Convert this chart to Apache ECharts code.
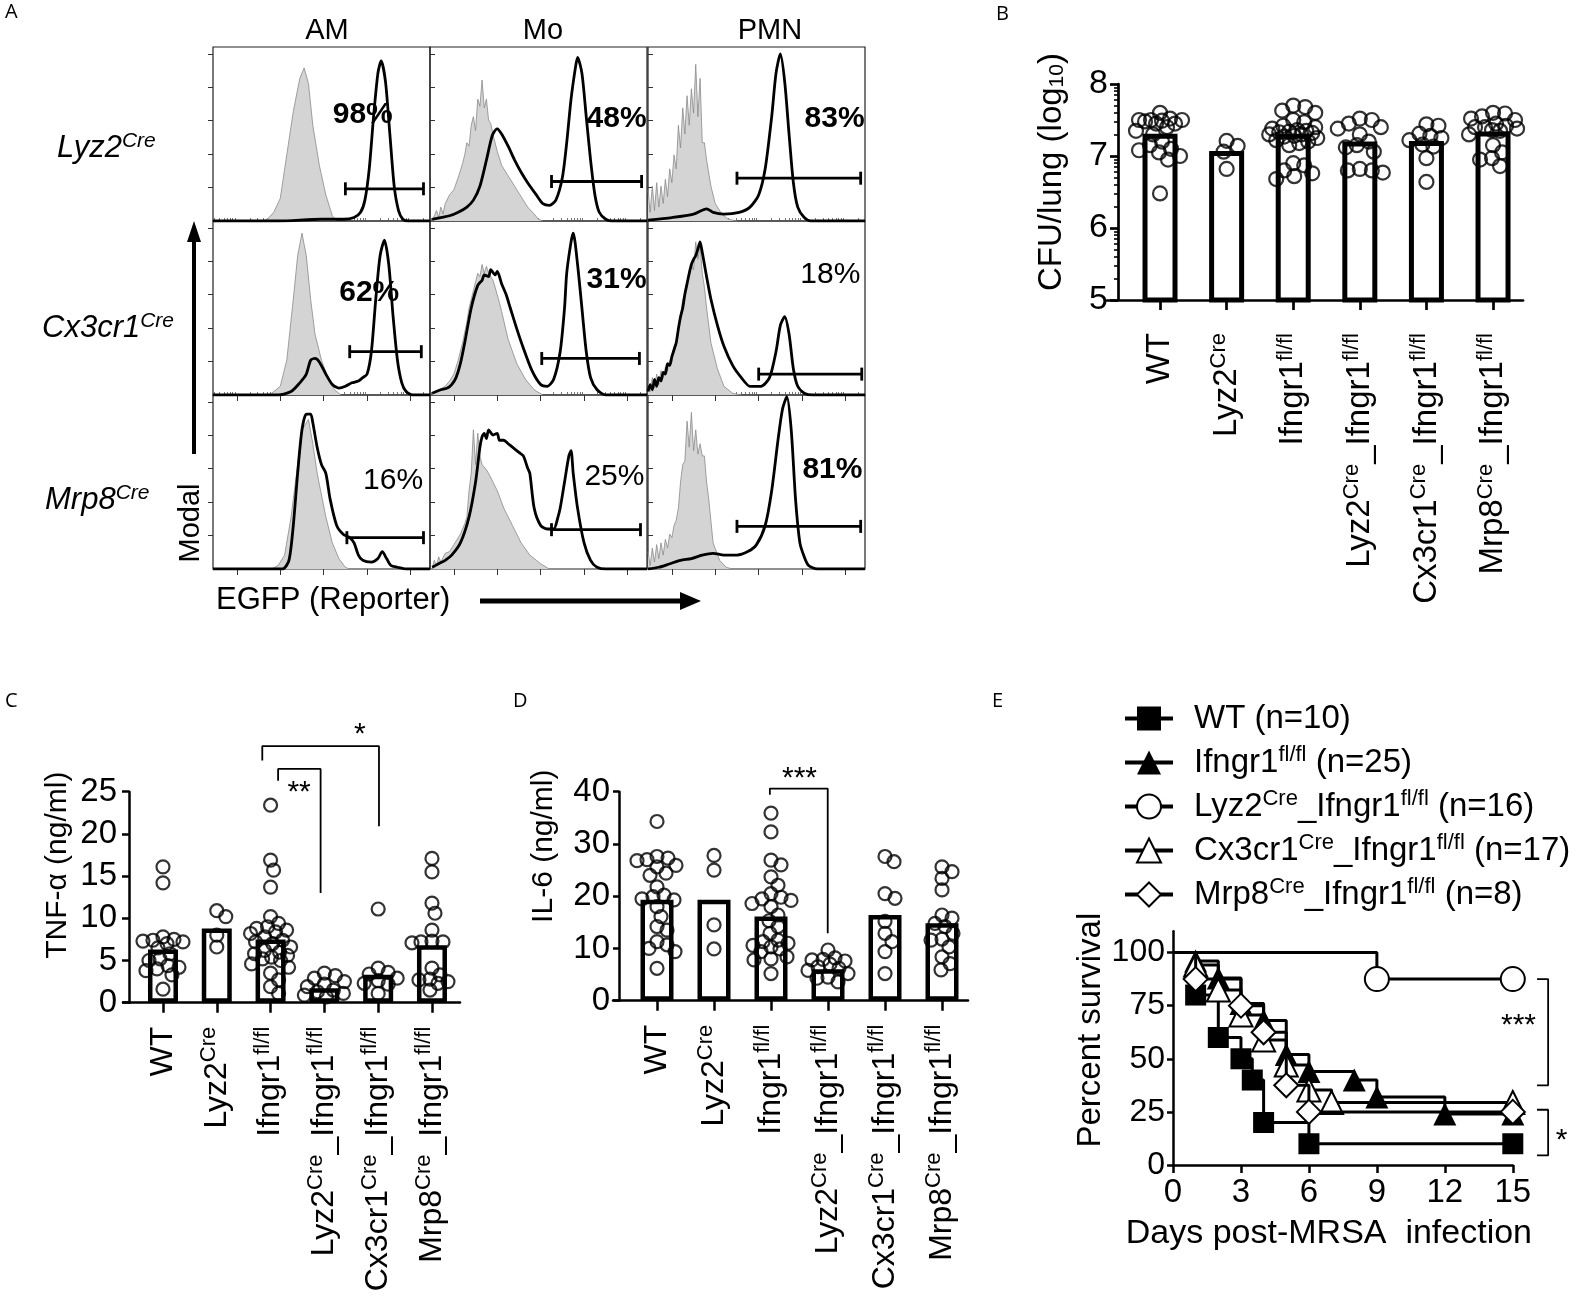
<!DOCTYPE html>
<html><head><meta charset="utf-8">
<script src="https://cdn.jsdelivr.net/npm/echarts@6/dist/echarts.min.js"></script>
<style>html,body{margin:0;padding:0;background:#fff}#c{width:1576px;height:1304px}</style>
</head><body><div id="c"></div>
<script>
// ---------------- DATA ----------------
const CATS = ['WT','Lyz2^Cre','Ifngr1^fl/fl','Lyz2^Cre_Ifngr1^fl/fl','Cx3cr1^Cre_Ifngr1^fl/fl','Mrp8^Cre_Ifngr1^fl/fl'];

// Panel A histograms [channel(0-100), % of max]
const AM_LYZ2_CTRL = [[23,0],[25,1],[28,5],[31,13],[34,38],[37,63],[40,82],[42,88],[44,79],[46,55],[49,32],[52,15],[55,3],[57,0]];
const AM_LYZ2_EGFP = [[0,0],[30,0],[50,1],[60,1],[65,2],[68,5],[70,12],[72,30],[74,60],[76,85],[77.5,92],[79.5,80],[81.5,50],[83.5,20],[85.5,6],[87.5,1],[90,0],[100,0]];
const MO_LYZ2_CTRL = [[1,0],[2,3],[3,6],[4,2],[5,8],[6,4],[7,10],[9,15],[11,18],[13,25],[15,33],[16,38],[17,45],[18,43],[19,55],[20,60],[21,52],[22,70],[23,66],[24,81],[25,65],[26,70],[27,58],[28,56],[29,50],[31,40],[33,32],[36,26],[39,20],[42,14],[45,8],[48,4],[50,1],[52,0]];
const MO_LYZ2_EGFP = [[1,1],[5,2],[9,3],[13,5],[17,8],[20,12],[23,20],[26,35],[28,46],[29,50],[31,53],[33,50],[36,43],[39,35],[42,28],[45,22],[49,15],[52,10],[55,9],[58,12],[61,25],[63,45],[65,70],[67,88],[68,94],[70,85],[72,60],[74,35],[76,15],[78,5],[81,1],[84,0],[100,0]];
const PMN_LYZ2_CTRL = [[0,18],[1,5],[2,20],[3,6],[4,22],[5,8],[6,20],[7,10],[8,24],[9,14],[10,30],[11,22],[12,38],[13,30],[14,55],[15,42],[16,65],[17,50],[18,72],[19,55],[20,76],[21,62],[22,90],[23,60],[24,82],[25,45],[26,45],[27,35],[29,20],[31,10],[34,4],[37,1],[41,0]];
const PMN_LYZ2_EGFP = [[0,0.5],[11,2],[21,4],[27,7],[30,5],[35,4],[42,5],[47,8],[51,15],[54,30],[57,60],[59,85],[61,96],[63,80],[65,50],[67,22],[69,8],[72,2],[75,0],[100,0]];
const AM_CX3_CTRL = [[25,0],[27,1],[31,5],[34,20],[37,55],[39,80],[41,93],[43,80],[45,55],[47,35],[50,20],[53,10],[56,3],[59,0]];
const AM_CX3_EGFP = [[0,0],[30,0],[36,2],[40,7],[43,12],[45,20],[47,21],[49,19],[52,12],[55,6],[58,4],[61,5],[64,7],[67,8],[69,10],[71,12],[73,25],[75,55],[77,80],[79,89],[81,75],[83,45],[85,20],[87,7],[89,2],[92,0],[100,0]];
const MO_CX3_CTRL = [[1,0],[2,2],[4,3],[7,5],[9,8],[11,12],[13,20],[15,30],[17,42],[18,50],[20,60],[21,65],[22,70],[23,68],[24,75],[25,70],[26,74],[27,70],[29,66],[30,62],[32,53],[33,48],[36,32],[40,18],[44,9],[48,3],[52,0]];
const MO_CX3_EGFP = [[1,1],[5,3],[8,4],[10,6],[12,10],[14,18],[16,30],[19,50],[22,63],[24,66],[25,69],[27,68],[28,72],[30,69],[31,71],[33,64],[35,58],[37,50],[40,38],[43,27],[47,14],[51,6],[54,5],[57,9],[60,25],[62,50],[63,70],[65,88],[66,93],[68,75],[70,50],[72,25],[74,10],[77,3],[81,0],[100,0]];
const PMN_CX3_CTRL = [[0,8],[1,2],[2,10],[3,4],[4,12],[5,6],[6,14],[7,10],[8,16],[9,14],[10,20],[11,22],[12,28],[13,30],[14,40],[15,45],[16,55],[17,58],[18,65],[19,68],[20,75],[21,72],[22,88],[23,78],[24,86],[25,70],[26,62],[27,50],[29,30],[32,15],[35,5],[39,1],[43,0]];
const PMN_CX3_EGFP = [[0,2],[1,6],[2,3],[3,9],[4,5],[5,10],[6,8],[7,13],[8,12],[9,18],[10,17],[11,22],[12,26],[13,30],[14,38],[15,45],[16,50],[17,58],[18,64],[19,70],[20,75],[21,78],[22,80],[23,84],[24,88],[25,82],[26,75],[27,68],[29,55],[32,40],[35,28],[39,17],[43,10],[47,5],[52,5],[56,10],[59,25],[61,40],[63,45],[65,35],[67,15],[69,5],[72,1],[76,0],[100,0]];
const AM_MRP8_CTRL = [[27,0],[30,2],[33,8],[36,30],[39,60],[41,80],[44,86],[46,72],[48,55],[52,30],[55,15],[58,6],[61,1],[63,0]];
const AM_MRP8_EGFP = [[0,0],[32,0],[35,5],[37,25],[39,55],[41,80],[43,89],[45,89],[46,84],[48,70],[50,60],[52,55],[54,40],[57,25],[60,20],[63,18],[65,15],[67,8],[69,5],[73,4],[76,6],[78,10],[80,6],[82,2],[85,1],[89,0],[100,0]];
const MO_MRP8_CTRL = [[1,0],[2,5],[3,2],[4,7],[5,4],[7,9],[9,10],[11,14],[14,20],[16,26],[17,30],[18,45],[19,55],[20,80],[21,60],[22,78],[23,65],[24,60],[26,57],[27,55],[29,50],[31,45],[34,35],[38,25],[42,15],[46,8],[51,3],[55,0]];
const MO_MRP8_EGFP = [[1,1],[4,3],[7,5],[10,8],[14,15],[18,30],[21,50],[23,70],[24,76],[25,78],[26,75],[27,80],[29,77],[31,78],[32,74],[34,74],[36,72],[38,70],[41,67],[43,65],[45,58],[46,55],[48,35],[51,25],[54,23],[57,23],[59,30],[60,35],[62,50],[64,65],[65,68],[66,55],[68,35],[71,15],[74,5],[77,1],[81,0],[100,0]];
const PMN_MRP8_CTRL = [[0,10],[1,2],[2,12],[3,4],[4,14],[5,6],[6,15],[7,8],[8,17],[9,12],[10,20],[11,18],[12,25],[13,28],[14,35],[15,50],[16,60],[17,62],[18,85],[19,70],[20,90],[21,68],[22,80],[23,66],[24,72],[25,65],[26,65],[27,50],[28,40],[30,15],[33,5],[36,1],[39,0]];
const PMN_MRP8_EGFP = [[0,0],[5,1],[10,3],[15,5],[20,6],[25,8],[30,9],[35,8],[41,8],[46,10],[50,14],[54,25],[57,45],[60,75],[62,92],[64,99],[66,80],[68,40],[70,15],[72,7],[74,2],[78,0],[100,0]];

const A_COLS = ['AM','Mo','PMN'];
const A_ROWS = [['Lyz2','Cre'],['Cx3cr1','Cre'],['Mrp8','Cre']];
const A_GATE = [[61,97,18.5],[56,97.5,22.7],[41,98,24.6],[63,96,24.9],[51.5,96.5,21],[51,98.5,12],[61.7,97,18],[56,97,22.6],[41,98,24.5]];
const A_PCT = ['98%','48%','83%','62%','31%','18%','16%','25%','81%'];
const A_BOLD = [true,true,true,true,true,false,false,false,true];

// Panel B: CFU/lung (log10)
const B_MEANS = [7.31, 7.07, 7.31, 7.20, 7.21, 7.34];
const B_WT = [7.6,7.52,7.5,7.5,7.5,7.49,7.48,7.45,7.45,7.4,7.35,7.3,7.2,7.15,7.1,7.08,7.05,7.0,6.95,6.48];
const B_LYZ2 = [7.21,7.14,7.06,6.82];
const B_IFN = [7.7,7.68,7.63,7.6,7.5,7.47,7.42,7.4,7.38,7.36,7.35,7.34,7.33,7.32,7.3,7.3,7.28,7.27,7.25,7.22,7.2,7.18,7.15,6.9,6.87,6.8,6.76,6.72,6.68];
const B_LYZ2_IFN = [7.52,7.5,7.45,7.4,7.38,7.3,7.2,7.15,7.12,7.06,6.82,6.8,6.8,6.77];
const B_CX3_IFN = [7.44,7.42,7.31,7.28,7.25,7.22,7.16,7.13,6.97,6.64];
const B_MRP8_IFN = [7.6,7.59,7.55,7.52,7.5,7.45,7.42,7.4,7.4,7.38,7.36,7.35,7.3,7.15,7.05,6.97,6.95,6.86];

// Panel C: TNF-a (ng/ml)
const C_MEANS = [6.3, 8.8, 7.5, 1.7, 3.3, 6.8];
const C_WT = [16.1,14.2,7.8,7.5,7.4,7.3,7.2,7.0,6.5,5.8,5.2,5.0,4.4,4.2,4.0,3.8,3.3,1.6];
const C_LYZ2 = [10.9,10.2,8.0,6.6];
const C_IFN = [23.4,16.9,15.7,13.7,10.2,9.4,9.0,8.8,8.6,8.4,8.2,7.8,7.4,7.2,7.0,6.6,6.2,6.0,5.8,5.6,5.4,5.2,5.0,4.6,4.2,3.5,2.7,1.9,1.1];
const C_LYZ2_IFN = [3.5,3.2,2.9,2.5,2.2,1.9,1.5,1.3,1.1,0.9,0.7];
const C_CX3_IFN = [11.1,4.1,3.6,3.4,2.9,2.6,2.3,2.2,1.1];
const C_MRP8_IFN = [17.1,15.5,11.8,10.6,8.6,7.3,7.2,7.2,7.1,4.1,3.3,2.8,2.7,2.5,2.3,1.5];
const C_BRACKETS = [[1.846,4.015,30.4,28.7,20.9],[2.14,2.93,27.7,26.3,13.0]];
const C_STARS = [['*',3.66,31.8],['**',2.53,24.9]];

// Panel D: IL-6 (ng/ml)
const D_MEANS = [19.3, 19.3, 16.1, 6.0, 16.4, 14.8];
const D_WT = [34.3,27.6,27.3,27.0,26.8,25.9,25.6,24.4,24.0,21.8,20.2,19.9,19.5,19.3,18.0,16.1,14.2,13.5,11.3,10.7,10.0,9.4,6.2];
const D_LYZ2 = [27.8,25.0,14.5,9.9];
const D_IFN = [35.9,32.3,26.9,26.0,23.7,22.1,20.5,19.8,19.5,19.2,18.6,18.0,16.4,15.3,14.2,12.9,11.6,11.3,11.0,10.6,10.3,9.9,9.4,8.4,8.0,7.8,5.2];
const D_LYZ2_IFN = [9.7,8.2,7.9,7.8,7.6,7.0,6.5,6.2,5.8,5.2,4.5,4.3,3.6];
const D_CX3_IFN = [27.6,26.6,20.5,19.6,15.2,12.9,11.3,9.4,5.2];
const D_MRP8_IFN = [25.6,24.7,23.4,21.2,16.4,15.8,14.8,14.2,12.9,11.8,11.6,10.3,8.4,7.1,5.9];
const D_BRACKETS = [[1.98,2.995,40.6,39.4,12.9]];
const D_STARS = [['***',2.5,42.5]];

// Panel E: survival
const E_NAMES = ['WT (n=10)','Ifngr1^fl/fl (n=25)','Lyz2^Cre_Ifngr1^fl/fl (n=16)','Cx3cr1^Cre_Ifngr1^fl/fl (n=17)','Mrp8^Cre_Ifngr1^fl/fl (n=8)'];
const E_DAYS_WT = [0,1,2,3,3.5,4,6,15];
const E_SURV_WT = [100,80,60,50,40,20,10,10];
const E_DAYS_IFN = [0,1,2,3,4,5,6,8,9,12,15];
const E_SURV_IFN = [100,96,88,76,68,52,44,40,32,24,24];
const E_DAYS_LYZ2 = [0,9,15];
const E_SURV_LYZ2 = [100,87.5,87.5];
const E_DAYS_CX3 = [0,1,2,3,4,5,6,7,15];
const E_SURV_CX3 = [100,94.1,82.4,70.6,58.8,47.1,35.3,29.4,29.4];
const E_DAYS_MRP8 = [0,1,3,4,5,6,15];
const E_SURV_MRP8 = [100,87.5,75,62.5,37.5,25,25];
const E_BRACKETS = [[16.07,16.56,87.5,37.5],[16.07,16.56,26,4.5]];
const E_STARS = [['***',15.25,65.5],['*',17.15,11.5]];

// ---------------- BUILD ----------------
const FONT = '"Liberation Sans", Arial, Helvetica, sans-serif';
const grids=[], xAxes=[], yAxes=[], series=[];
const addGrid=g=>{grids.push(g);return grids.length-1;};
const addX=a=>{xAxes.push(a);return xAxes.length-1;};
const addY=a=>{yAxes.push(a);return yAxes.length-1;};

function richify(str){
  return str.split(/(\^[^_\s]+)/).filter(p=>p.length).map(p=>p[0]==='^'?'{s|'+p.slice(1)+'}':'{n|'+p+'}').join('');
}
function supRich(fs, sfs, extra){
  extra = extra||{};
  return {
    n:Object.assign({fontSize:fs,lineHeight:fs,verticalAlign:'bottom',fontFamily:FONT,color:'#000'},extra),
    s:Object.assign({fontSize:sfs,lineHeight:sfs,verticalAlign:'bottom',padding:[0,0,Math.round(fs*0.4),0],fontFamily:FONT,color:'#000'},extra)
  };
}
function textSeries(xi,yi,pos,txt,fs,weight){
  return {type:'scatter',xAxisIndex:xi,yAxisIndex:yi,data:[pos],symbolSize:0,clip:false,silent:true,itemStyle:{color:'#000'},
    label:{show:true,position:'inside',formatter:txt,fontSize:fs,fontWeight:weight||'normal',color:'#000',opacity:1,fontFamily:FONT},z:6};
}

// Panel A
const A_CTRL=[AM_LYZ2_CTRL,MO_LYZ2_CTRL,PMN_LYZ2_CTRL,AM_CX3_CTRL,MO_CX3_CTRL,PMN_CX3_CTRL,AM_MRP8_CTRL,MO_MRP8_CTRL,PMN_MRP8_CTRL];
const A_EGFP=[AM_LYZ2_EGFP,MO_LYZ2_EGFP,PMN_LYZ2_EGFP,AM_CX3_EGFP,MO_CX3_EGFP,PMN_CX3_EGFP,AM_MRP8_EGFP,MO_MRP8_EGFP,PMN_MRP8_EGFP];
const A_PCT_POS=[[69,61],[86,59],[86,59],[72,59],[86,66],[84,69],[83,51],[85,53],[85,57]];
const A_LEFT=[213,430,648], A_TOP=[47,221,395], A_W=217, A_H=174;
const A_XMAJOR=[11,31,51,71,91], A_XMINOR=[];
for(const m of [-9,11,31,51,71,91]) for(let k=2;k<=9;k++){const v=m+20*Math.log10(k); if(v>0&&v<100) A_XMINOR.push(+v.toFixed(2));}
const A_YMAJOR=[19.5,38.5,58,77,96];

for(let i=0;i<9;i++){
  const r=Math.floor(i/3), c=i%3;
  const gi=addGrid({left:A_LEFT[c],top:A_TOP[r],width:A_W,height:A_H,show:true,borderColor:'#222',borderWidth:1.2,backgroundColor:'rgba(0,0,0,0)'});
  const showX=r>0;
  const xi=addX({type:'value',gridIndex:gi,min:0,max:100,axisLine:{show:false},axisLabel:{show:false},splitLine:{show:false},
    axisTick:{show:showX,customValues:A_XMAJOR,length:6,lineStyle:{color:'#333',width:1}}});
  addX({type:'value',gridIndex:gi,min:0,max:100,axisLine:{show:false},axisLabel:{show:false},splitLine:{show:false},
    axisTick:{show:showX,customValues:A_XMINOR,length:3,lineStyle:{color:'#555',width:0.8}}});
  const yi=addY({type:'value',gridIndex:gi,min:0,max:100,axisLine:{show:false,onZero:false},axisLabel:{show:false},splitLine:{show:false},
    axisTick:{show:true,inside:c>0,customValues:A_YMAJOR,length:5,lineStyle:{color:'#333',width:1}}});
  series.push({type:'line',xAxisIndex:xi,yAxisIndex:yi,data:A_CTRL[i],symbol:'none',lineStyle:{color:'#8a8a8a',width:0.8},areaStyle:{color:'#d4d4d4',opacity:1},z:2});
  series.push({type:'line',xAxisIndex:xi,yAxisIndex:yi,data:A_EGFP[i],symbol:'none',smooth:0.25,lineStyle:{color:'#000',width:2.8},z:3});
  const g=A_GATE[i];
  series.push({type:'line',xAxisIndex:xi,yAxisIndex:yi,data:[[g[0],g[2]],[g[1],g[2]]],symbol:'rect',symbolSize:[2.8,13],showSymbol:true,
    itemStyle:{color:'#000'},lineStyle:{color:'#000',width:2.8},z:4});
  series.push(textSeries(xi,yi,A_PCT_POS[i],A_PCT[i],30,A_BOLD[i]?'bold':'normal'));
}

// swarm layout (pixel offsets) computed from values
function swarm(vals,pxPerVal,diam,maxOff){
  const order=vals.map((v,i)=>i).sort((a,b)=>vals[b]-vals[a]);
  const placed=[], off=new Array(vals.length);
  for(const i of order){
    const y=vals[i]*pxPerVal; let best=null;
    for(let k=0;k<=maxOff&&best===null;k+=1){
      for(const s of (k===0?[0]:[k,-k])){
        if(placed.every(p=>Math.hypot(p.x-s,p.y-y)>=diam)){best=s;break;}
      }
    }
    if(best===null){
      let bd=-1;
      for(let s=-maxOff;s<=maxOff;s++){
        const d=Math.min(...placed.map(p=>Math.hypot(p.x-s,p.y-y)));
        if(d>bd){bd=d;best=s;}
      }
    }
    placed.push({x:best,y}); off[i]=best;
  }
  return off;
}

function barPanel(P){
  const gi=addGrid({left:P.left,top:P.top,width:P.width,height:P.height});
  const xi=addX({type:'value',gridIndex:gi,min:P.xmin,max:P.xmax,
    axisLine:{show:true,onZero:false,lineStyle:{color:'#000',width:P.lw}},splitLine:{show:false},
    axisTick:{show:true,customValues:[0,1,2,3,4,5],length:10,lineStyle:{color:'#000',width:P.lw}},
    axisLabel:{show:true,customValues:[0,1,2,3,4,5],rotate:90,margin:P.labMargin,formatter:v=>richify(CATS[Math.round(v)]),rich:supRich(P.catFs,P.supFs)}});
  const yi=addY({type:'value',gridIndex:gi,position:'left',min:P.ymin,max:P.ymax,interval:P.yint,offset:P.yoff,
    name:P.yname,nameLocation:'middle',nameGap:P.nameGap,nameRotate:90,
    nameTextStyle:Object.assign({fontSize:P.nameFs,fontFamily:FONT,color:'#000',padding:[0,0,0,P.namePad]},P.nameRich?{rich:P.nameRich}:{}),
    axisLine:{show:true,onZero:false,lineStyle:{color:'#000',width:P.lw}},
    axisTick:{show:true,length:P.ytl,lineStyle:{color:'#000',width:P.lw}},
    axisLabel:{fontSize:P.yFs,fontFamily:FONT,color:'#000',margin:P.yMargin},splitLine:{show:false}});
  series.push({type:'bar',xAxisIndex:xi,yAxisIndex:yi,data:P.means.map((m,k)=>[k,m]),barWidth:P.barW,
    itemStyle:{color:'#fff',borderColor:'#000',borderWidth:P.barBorder},z:2});
  const pxPerVal=P.height/(P.ymax-P.ymin), pxPerCat=P.width/(P.xmax-P.xmin);
  P.points.forEach((vals,k)=>{
    const off=swarm(vals,pxPerVal,P.diam*0.8,P.maxOff);
    series.push({type:'scatter',xAxisIndex:xi,yAxisIndex:yi,data:vals.map((v,j)=>[k+off[j]/pxPerCat,v]),symbol:'circle',symbolSize:P.diam,
      itemStyle:{color:'rgba(0,0,0,0)',borderColor:'#000',borderWidth:2.2},z:3});
  });
  (P.brackets||[]).forEach(b=>{
    series.push({type:'line',xAxisIndex:xi,yAxisIndex:yi,data:[[b[0],b[3]],[b[0],b[2]],[b[1],b[2]],[b[1],b[4]]],symbol:'none',clip:false,
      lineStyle:{color:'#000',width:1.8},z:4});
  });
  (P.stars||[]).forEach(s=>series.push(textSeries(xi,yi,[s[1],s[2]],s[0],30)));
  return {gi,xi,yi};
}

// Panel B
const bRes=barPanel({left:1107,top:84,width:416,height:216,xmin:-0.796,xmax:5.45,ymin:5,ymax:8,yint:1,yoff:-11,lw:2.7,
  labMargin:33,catFs:33,supFs:22,ytl:8,yFs:34,yMargin:10,
  yname:'{n|CFU/lung (log}{b|10}{n|)}',nameGap:50,nameFs:33,namePad:40,
  nameRich:{n:{fontSize:33,lineHeight:33,verticalAlign:'top',padding:[0,0,7,0],fontFamily:FONT,color:'#000'},b:{fontSize:21,lineHeight:21,verticalAlign:'bottom',fontFamily:FONT,color:'#000'}},
  means:B_MEANS,barW:35,barBorder:5,points:[B_WT,B_LYZ2,B_IFN,B_LYZ2_IFN,B_CX3_IFN,B_MRP8_IFN],diam:14,maxOff:24});
const B_MINOR=[]; for(let n=5;n<8;n++) for(let k=2;k<=9;k++) B_MINOR.push(+(n+Math.log10(k)).toFixed(4));
addY({type:'value',gridIndex:bRes.gi,position:'left',min:5,max:8,offset:-11,axisLine:{show:false,onZero:false},axisLabel:{show:false},splitLine:{show:false},
  axisTick:{show:true,customValues:B_MINOR,length:4,lineStyle:{color:'#000',width:1.6}}});

// Panel C
barPanel({left:123,top:791.7,width:337,height:211,xmin:-0.743,xmax:5.521,ymin:0,ymax:25,yint:5,yoff:-6,lw:2.5,
  labMargin:24,catFs:32,supFs:22,ytl:7,yFs:33,yMargin:12,
  yname:'TNF-α (ng/ml)',nameGap:56,nameFs:30,namePad:64,
  means:C_MEANS,barW:30,barBorder:4.5,points:[C_WT,C_LYZ2,C_IFN,C_LYZ2_IFN,C_CX3_IFN,C_MRP8_IFN],diam:13,maxOff:20,
  brackets:C_BRACKETS,stars:C_STARS});

// Panel D
barPanel({left:613,top:791.7,width:355,height:209,xmin:-0.772,xmax:5.456,ymin:0,ymax:40,yint:10,yoff:-6,lw:2.5,
  labMargin:24,catFs:32,supFs:22,ytl:6,yFs:33,yMargin:9,
  yname:'IL-6 (ng/ml)',nameGap:60,nameFs:30,namePad:100,
  means:D_MEANS,barW:33,barBorder:4.5,points:[D_WT,D_LYZ2,D_IFN,D_LYZ2_IFN,D_CX3_IFN,D_MRP8_IFN],diam:13,maxOff:20,
  brackets:D_BRACKETS,stars:D_STARS});

// Panel E
const E_PX_PER_DAY=339.8/15;
const eg=addGrid({left:1173,top:931.3,width:339.8,height:233.7});
const ex=addX({type:'value',gridIndex:eg,min:0,max:15,interval:3,
  name:'Days post-MRSA  infection',nameLocation:'middle',nameGap:52,nameTextStyle:{fontSize:34,fontFamily:FONT,color:'#000',padding:[0,28,0,0]},
  axisLine:{show:true,onZero:false,lineStyle:{color:'#000',width:2.5}},axisTick:{length:8,lineStyle:{color:'#000',width:2.5}},
  axisLabel:{fontSize:33,fontFamily:FONT,color:'#000',margin:11},splitLine:{show:false}});
const ey=addY({type:'value',gridIndex:eg,min:0,max:110,
  name:'Percent survival',nameLocation:'middle',nameGap:66,nameRotate:90,nameTextStyle:{fontSize:33,fontFamily:FONT,color:'#000',padding:[0,0,0,36]},
  axisLine:{show:true,onZero:false,lineStyle:{color:'#000',width:2.5}},
  axisTick:{customValues:[0,25,50,75,100],length:6,lineStyle:{color:'#000',width:2.5}},
  axisLabel:{customValues:[0,25,50,75,100],fontSize:32,fontFamily:FONT,color:'#000',margin:8},splitLine:{show:false}});
const E_SETS=[[E_DAYS_WT,E_SURV_WT,'rect',21],[E_DAYS_IFN,E_SURV_IFN,'triangle',23],[E_DAYS_LYZ2,E_SURV_LYZ2,'emptyCircle',24],
  [E_DAYS_CX3,E_SURV_CX3,'emptyTriangle',23],[E_DAYS_MRP8,E_SURV_MRP8,'emptyDiamond',24]];
E_SETS.forEach((s,k)=>{
  series.push({name:E_NAMES[k],type:'line',step:'end',xAxisIndex:ex,yAxisIndex:ey,
    data:s[0].map((d,j)=>j===0?{value:[d,s[1][j]],symbol:'none'}:[d,s[1][j]]),
    symbol:s[2],symbolSize:s[3],showSymbol:true,showAllSymbol:true,clip:false,
    lineStyle:{color:'#000',width:3},itemStyle:{color:'#000',borderWidth:3},z:k===2?8:4+k});
});
// overlay grid (same scales, wider) for the significance brackets right of the plot
const eg2=addGrid({left:1173,top:931.3,width:1576-1173,height:233.7});
const ex2=addX({type:'value',gridIndex:eg2,min:0,max:(1576-1173)/E_PX_PER_DAY,show:false});
const ey2=addY({type:'value',gridIndex:eg2,min:0,max:110,show:false});
E_BRACKETS.forEach(b=>{
  series.push({type:'line',xAxisIndex:ex2,yAxisIndex:ey2,data:[[b[0],b[2]],[b[1],b[2]],[b[1],b[3]],[b[0],b[3]]],symbol:'none',clip:false,
    lineStyle:{color:'#000',width:1.8},z:4});
});
E_STARS.forEach(s=>series.push(textSeries(ex2,ey2,[s[1],s[2]],s[0],30)));

// ---------------- TEXT / DECOR ----------------
const LET={fontSize:20,fontFamily:'"Open Sans", sans-serif',fill:'#000'};
const rowRich=supRich(31,21,{fontStyle:'italic'});
const graphic=[
  {type:'text',left:5,top:2,style:Object.assign({text:'A'},LET)},
  {type:'text',left:996,top:4,style:Object.assign({text:'B'},LET)},
  {type:'text',left:5,top:691,style:Object.assign({text:'C'},LET)},
  {type:'text',left:513,top:691,style:Object.assign({text:'D'},LET)},
  {type:'text',left:992,top:691,style:Object.assign({text:'E'},LET)},
  {type:'text',x:327,y:31,style:{text:A_COLS[0],fontSize:29,fontFamily:FONT,fill:'#000',align:'center',verticalAlign:'middle'}},
  {type:'text',x:543,y:31,style:{text:A_COLS[1],fontSize:29,fontFamily:FONT,fill:'#000',align:'center',verticalAlign:'middle'}},
  {type:'text',x:770,y:31,style:{text:A_COLS[2],fontSize:29,fontFamily:FONT,fill:'#000',align:'center',verticalAlign:'middle'}},
  {type:'text',x:57,y:148,style:{text:'{n|'+A_ROWS[0][0]+'}{s|'+A_ROWS[0][1]+'}',rich:rowRich,verticalAlign:'middle'}},
  {type:'text',x:42,y:328,style:{text:'{n|'+A_ROWS[1][0]+'}{s|'+A_ROWS[1][1]+'}',rich:rowRich,verticalAlign:'middle'}},
  {type:'text',x:45,y:500,style:{text:'{n|'+A_ROWS[2][0]+'}{s|'+A_ROWS[2][1]+'}',rich:rowRich,verticalAlign:'middle'}},
  {type:'text',x:191,y:523,rotation:Math.PI/2,style:{text:'Modal',fontSize:29,fontFamily:FONT,fill:'#000',align:'center',verticalAlign:'middle'}},
  {type:'line',shape:{x1:194,y1:454,x2:194,y2:238},style:{stroke:'#000',lineWidth:4}},
  {type:'polygon',shape:{points:[[194,221],[187,242],[201,242]]},style:{fill:'#000'}},
  {type:'text',x:216,y:600,style:{text:'EGFP (Reporter)',fontSize:31,fontFamily:FONT,fill:'#000',verticalAlign:'middle'}},
  {type:'line',shape:{x1:480,y1:601,x2:684,y2:601},style:{stroke:'#000',lineWidth:5}},
  {type:'polygon',shape:{points:[[701,601],[680,592],[680,610]]},style:{fill:'#000'}}
];

const chart=echarts.init(document.getElementById('c'),null,{renderer:'canvas',width:1576,height:1304});
chart.setOption({
  animation:false,
  backgroundColor:'#fff',
  grid:grids,xAxis:xAxes,yAxis:yAxes,series:series,graphic:graphic,
  legend:{data:E_NAMES,orient:'vertical',left:1118,top:697,itemWidth:48,itemHeight:30,itemGap:9,selectedMode:false,
    lineStyle:{width:4},
    formatter:n=>richify(n),
    textStyle:{color:'#000',padding:[0,0,0,16],rich:supRich(33,22)}}
});
</script></body></html>
